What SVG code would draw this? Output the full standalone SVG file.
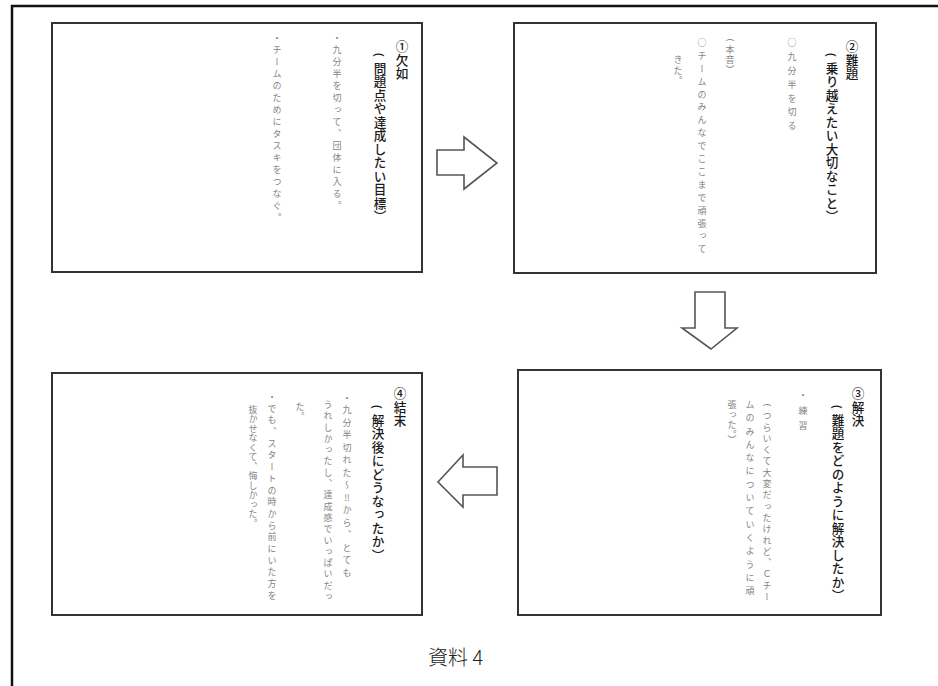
<svg xmlns="http://www.w3.org/2000/svg" width="938" height="686" viewBox="0 0 938 686">
<style>
.card{fill:#fff;stroke:#333;stroke-width:2}
.arrow{fill:#fff;stroke:#555;stroke-width:1.6;stroke-linejoin:miter}
.frame{fill:none;stroke:#111;stroke-width:2.5}
.v{writing-mode:vertical-rl;text-orientation:upright;font-family:"Noto Sans CJK JP","Noto Sans CJK SC",sans-serif}
.title{font-size:12.6px;fill:#1a1a1a;font-weight:500;letter-spacing:0.9px}
.hand{font-size:9px;fill:#858585}
.pt{font-family:"Noto Sans","DejaVu Sans",sans-serif;font-size:13px;fill:#1a1a1a;text-anchor:middle;dominant-baseline:central}
.ph{font-family:"Noto Sans","DejaVu Sans",sans-serif;font-size:9px;fill:#858585;text-anchor:middle;dominant-baseline:central}
.cap{font-family:"Noto Sans CJK JP","Noto Sans CJK SC",sans-serif;font-size:20px;fill:#222;font-weight:300}
</style>
<rect width="938" height="686" fill="#fff"/>
<path class="frame" d="M12,686 V6 H938"/>

<g id="card1">
<rect class="card" x="52" y="23" width="370" height="249"/>
<text class="v title" x="402" y="40">①欠如</text>
<text class="pt" transform="translate(380,55) rotate(90)">(</text>
<text class="v title" x="380" y="61.5">問題点や達成したい目標︶</text>
<text class="v hand" x="337" y="33" letter-spacing="3">・九分半を切って、団体に入る。</text>
<text class="v hand" x="277" y="33" letter-spacing="3">・チームのためにタスキをつなぐ。</text>
</g>

<g id="card2">
<rect class="card" x="514" y="23" width="362" height="250"/>
<text class="v title" x="852" y="40">②難題</text>
<text class="pt" transform="translate(832,55) rotate(90)">(</text>
<text class="v title" x="832" y="61.5">乗り越えたい大切なこと︶</text>
<text class="v hand" x="792" y="38" letter-spacing="4.9">○九分半を切る</text>
<text class="ph" transform="translate(730,40) rotate(90)">(</text>
<text class="v hand" x="730" y="45" letter-spacing="1">本音︶</text>
<text class="v hand" x="702" y="38" letter-spacing="3.9">○チームのみんなでここまで頑張って</text>
<text class="v hand" x="678" y="55" letter-spacing="1.7">きた。</text>
</g>

<g id="card3">
<rect class="card" x="518" y="370" width="363" height="245"/>
<text class="v title" x="858" y="387">③解決</text>
<text class="pt" transform="translate(838,407) rotate(90)">(</text>
<text class="v title" x="838" y="413.5">難題をどのように解決したか︶</text>
<text class="v hand" x="803" y="390" letter-spacing="6.7">・練習</text>
<text class="ph" transform="translate(767,405) rotate(90)">(</text>
<text class="v hand" x="767" y="411.3" letter-spacing="2.3">つらいくて大変だったけれど、Ｃチー</text>
<text class="v hand" x="750" y="400" letter-spacing="4.3">ムのみんなについていくように頑</text>
<text class="v hand" x="732" y="400" letter-spacing="1">張った。︶</text>
</g>

<g id="card4">
<rect class="card" x="52" y="373" width="370" height="242"/>
<text class="v title" x="400" y="387">④結末</text>
<text class="pt" transform="translate(378,407) rotate(90)">(</text>
<text class="v title" x="378" y="413.5">解決後にどうなったか︶</text>
<text class="v hand" x="347" y="393" letter-spacing="3.5">・九分半切れた〜‼から、とても</text>
<text class="v hand" x="328" y="400" letter-spacing="2.3">うれしかったし、達成感でいっぱいだっ</text>
<text class="v hand" x="300" y="402" letter-spacing="1">た。</text>
<text class="v hand" x="272" y="392" letter-spacing="2.7">・でも、スタートの時から前にいた方を</text>
<text class="v hand" x="253" y="405" letter-spacing="0.5">抜かせなくて、悔しかった。</text>
</g>

<g id="connectors">
<polygon class="arrow" points="437,150 464,150 464,137 497,163 464,189 464,175 437,175"/>
<polygon class="arrow" points="695,292 725,292 725,328 737,328 711,349 682,328 695,328"/>
<polygon class="arrow" points="497,467 463,467 463,455 438,482 463,507 463,495 497,495"/>
</g>

<g id="caption">
<text class="cap" x="428" y="665">資料 4</text>
</g>
</svg>
